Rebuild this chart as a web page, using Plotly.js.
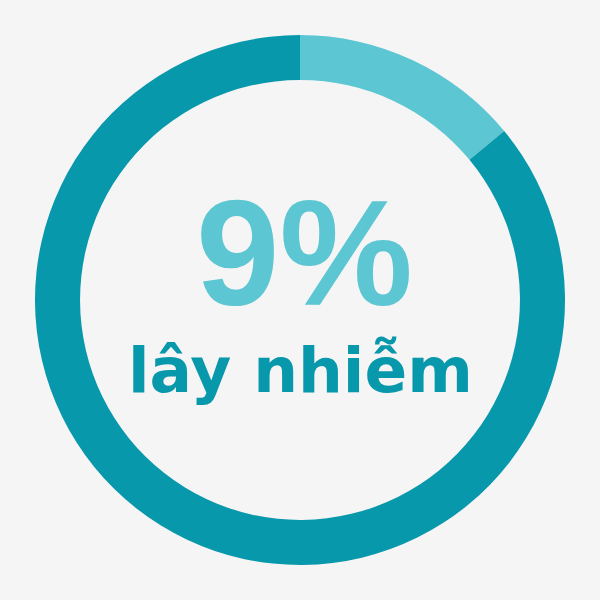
<!DOCTYPE html>
<html><head><meta charset="utf-8">
<script src="https://cdn.plot.ly/plotly-3.0.1.min.js"></script>
<style>html,body{margin:0;padding:0;background:#f5f5f5;}</style>
</head><body>
<div id="chart" style="width:600px;height:600px;"></div>
<script>
const labels = ["Lây nhiễm", "Còn lại"];
const values = [14, 86];
const colors = ["#5cc6d3", "#0898ab"];
const bigText = "9%";
const subText = "lây nhiễm";

Plotly.newPlot("chart", [{
  type: "pie",
  labels: labels,
  values: values,
  hole: 0.83,
  sort: false,
  direction: "clockwise",
  rotation: 0,
  textinfo: "none",
  hoverinfo: "label+percent",
  marker: {colors: colors, line: {width: 0}}
}], {
  width: 600, height: 600,
  margin: {l: 35, r: 35, t: 35, b: 35},
  paper_bgcolor: "#f5f5f5",
  plot_bgcolor: "#f5f5f5",
  showlegend: false,
  annotations: [
    {text: "<b>" + bigText + "</b>", x: 0.508, y: 0.588, xref: "paper", yref: "paper",
     showarrow: false, xanchor: "center", yanchor: "middle",
     font: {family: "Liberation Sans, Arial, sans-serif", size: 150, color: colors[0]}},
    {text: "<b>" + subText + "</b>", x: 0.501, y: 0.367, xref: "paper", yref: "paper",
     showarrow: false, xanchor: "center", yanchor: "middle",
     font: {family: "DejaVu Sans, sans-serif", size: 63, color: colors[1]}}
  ]
}, {displayModeBar: false, staticPlot: true});
</script>
</body></html>
